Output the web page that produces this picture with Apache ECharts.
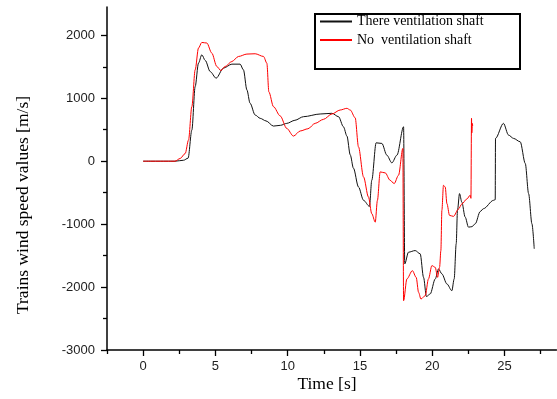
<!DOCTYPE html>
<html>
<head>
<meta charset="utf-8">
<script src="https://cdn.jsdelivr.net/npm/echarts@6/dist/echarts.min.js"></script>
<style>html,body{margin:0;padding:0;background:#fff}#c{width:557px;height:399px}</style>
</head>
<body>
<div id="c"></div>
<script>
// Data
const seriesNames = ['There ventilation shaft', 'No  ventilation shaft'];
const withShaft = [
  [0,0],[2.2,0],[2.8,15],[3.11,48],[3.37,494],[3.6,1185],[3.83,1558],[4.06,1691],[4.3,1600],
  [4.64,1424],[5.05,1319],[5.56,1479],[6.14,1542],[6.71,1542],[6.94,1451],[7.18,1132],[7.4,920],
  [7.75,734],[8.1,681],[8.5,640],[9.02,558],[9.5,570],[9.94,601],[10.5,650],[11.09,707],
  [12.25,750],[13.06,761],[13.52,707],[13.86,547],[14.1,400],[14.33,100],[14.55,-110],
  [14.9,-410],[15.25,-622],[15.66,-718],[15.82,-303],[16.12,292],[16.52,282],[16.86,96],
  [17.21,-27],[17.56,96],[18.02,547],[18.1,-1632],[18.36,-1446],[18.82,-1420],[19.17,-1472],
  [19.4,-1845],[19.6,-2150],[19.86,-2110],[20.21,-1871],[20.44,-1712],[20.67,-1791],[21.02,-1951],
  [21.36,-2058],[21.52,-1871],[21.66,-1313],[21.75,-782],[21.89,-515],[22.05,-649],[22.28,-888],
  [22.51,-1048],[22.75,-1040],[22.98,-994],[23.32,-800],[23.55,-754],[24.24,-622],[24.36,-611],
  [24.38,362],[24.93,601],[25.28,415],[25.63,362],[26.09,308],[26.44,-37],[26.67,-515],
  [26.9,-994],[27.06,-1392]
];
const noShaft = [
  [0,0],[2.2,0],[2.56,43],[2.91,122],[3.14,335],[3.37,866],[3.6,1451],[3.83,1798],[4.06,1887],
  [4.41,1877],[4.75,1718],[5.1,1504],[5.38,1440],[5.67,1504],[6.14,1584],[6.6,1664],[7.18,1702],
  [7.75,1707],[8.33,1664],[8.56,1558],[8.7,1100],[9.02,866],[9.48,720],[9.94,520],[10.4,399],
  [10.87,480],[11.4,515],[11.9,601],[12.48,665],[13.06,750],[13.63,813],[14.1,840],[14.33,813],
  [14.67,690],[14.9,228],[15.25,-250],[15.59,-569],[15.82,-835],[16.06,-968],[16.21,-622],
  [16.4,-170],[16.75,-186],[17.09,-303],[17.37,-356],[17.67,-223],[17.97,203],[18.02,-2217],
  [18.25,-1870],[18.63,-1739],[18.89,-1845],[19.06,-2085],[19.22,-2190],[19.52,-2137],
  [19.74,-1871],[19.98,-1659],[20.21,-1686],[20.37,-1845],[20.51,-1686],[20.6,-1420],
  [20.67,-782],[20.78,-383],[20.9,-410],[21.02,-675],[21.2,-861],[21.47,-877],[21.82,-760],
  [22.05,-680],[22.4,-600],[22.63,-540],[22.68,-590],[22.72,681],[22.74,450],[22.78,600],[22.8,560]
];
const xMajor = [0,5,10,15,20,25];
const xMinor = [-2.5,2.5,7.5,12.5,17.5,22.5,27.5];
const yMajor = [-3000,-2000,-1000,0,1000,2000];
const yMinor = [-2500,-1500,-500,500,1500];
const xTitle = 'Time [s]';
const yTitle = 'Trains wind speed values [m/s]';

const X_MIN = -2.5, X_MAX = 28.6, Y_MIN = -3000, Y_MAX = 2450;
const labelStyle = {fontFamily: 'Liberation Sans', fontSize: 13, color: '#222', formatter: v => String(v)};

const chart = echarts.init(document.getElementById('c'), null, {renderer: 'canvas'});
chart.setOption({
  animation: false,
  backgroundColor: '#fff',
  grid: {left: 107, right: 0.5, top: 7, bottom: 49, containLabel: false},
  xAxis: [{
    type: 'value', min: X_MIN, max: X_MAX, position: 'bottom',
    axisLine: {show: true, onZero: false, lineStyle: {color: '#000', width: 1.5}},
    axisTick: {show: true, customValues: xMajor, length: 6, inside: false, lineStyle: {color: '#000', width: 1.3}},
    axisLabel: {show: true, customValues: xMajor, margin: 10, ...labelStyle},
    splitLine: {show: false}
  }, {
    type: 'value', min: X_MIN, max: X_MAX, position: 'bottom', gridIndex: 0,
    axisLine: {show: false, onZero: false},
    axisTick: {show: true, customValues: xMinor, length: 4, lineStyle: {color: '#000', width: 1.3}},
    axisLabel: {show: false},
    splitLine: {show: false}
  }],
  yAxis: [{
    type: 'value', min: Y_MIN, max: Y_MAX, position: 'left',
    axisLine: {show: true, onZero: false, lineStyle: {color: '#000', width: 1.5}},
    axisTick: {show: true, customValues: yMajor, length: 6, lineStyle: {color: '#000', width: 1.3}},
    axisLabel: {show: true, customValues: yMajor, margin: 12, ...labelStyle},
    splitLine: {show: false}
  }, {
    type: 'value', min: Y_MIN, max: Y_MAX, position: 'left',
    axisLine: {show: false, onZero: false},
    axisTick: {show: true, customValues: yMinor, length: 4, lineStyle: {color: '#000', width: 1.3}},
    axisLabel: {show: false},
    splitLine: {show: false}
  }],
  legend: {
    show: true, orient: 'vertical', left: 320, top: 14.5,
    itemWidth: 32, itemHeight: 14, itemGap: 4.5, padding: 0,
    icon: 'path://M0,6 L32,6 L32,8 L0,8 Z',
    textStyle: {fontFamily: 'Liberation Serif', fontSize: 14, color: '#000'},
    data: seriesNames
  },
  graphic: [
    {type: 'rect', left: 314, top: 13, z: -1, shape: {width: 205, height: 55},
     style: {fill: '#fff', stroke: '#000', lineWidth: 2}},
    {type: 'text', x: 327, y: 384, style: {text: xTitle, font: '17.5px "Liberation Serif"', fill: '#000', align: 'center', verticalAlign: 'middle'}},
    {type: 'text', x: 23, y: 205, rotation: Math.PI / 2, style: {text: yTitle, font: '17.5px "Liberation Serif"', fill: '#000', align: 'center', verticalAlign: 'middle'}}
  ],
  series: [
    {name: seriesNames[0], type: 'line', xAxisIndex: 0, yAxisIndex: 0, data: withShaft,
     showSymbol: false, symbol: 'none', smooth: 0.3, smoothMonotone: 'x',
     lineStyle: {color: '#111', width: 1}, itemStyle: {color: '#111'}},
    {name: seriesNames[1], type: 'line', xAxisIndex: 0, yAxisIndex: 0, data: noShaft,
     showSymbol: false, symbol: 'none', smooth: 0.3, smoothMonotone: 'x',
     lineStyle: {color: '#ff0000', width: 1}, itemStyle: {color: '#ff0000'}}
  ]
});
</script>
</body>
</html>
